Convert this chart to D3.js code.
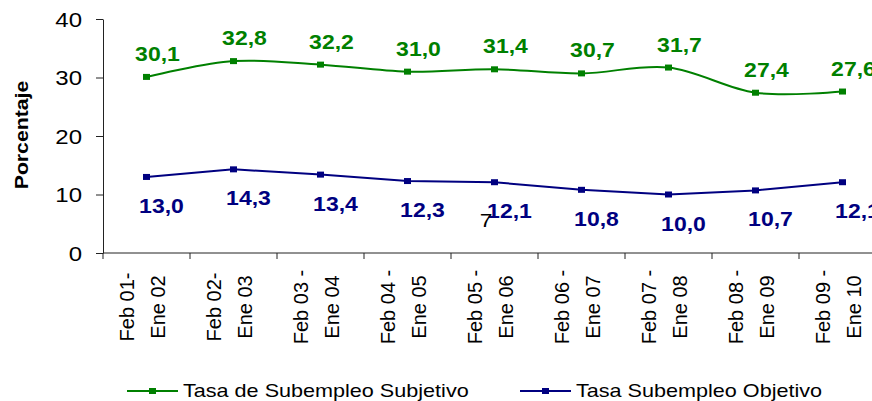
<!DOCTYPE html>
<html>
<head>
<meta charset="utf-8">
<script src="https://cdn.jsdelivr.net/npm/d3@7"></script>
<style>
  body { margin: 0; background: #fff; }
  svg { display: block; font-family: "Liberation Sans", Arial, sans-serif; }
</style>
</head>
<body>
<div id="graph"></div>
<script>
document.addEventListener("DOMContentLoaded", function() {

  // periodos (two lines each)
  const periods = ["Feb 01-|Ene 02", "Feb 02-|Ene 03", "Feb 03 -|Ene 04", "Feb 04 -|Ene 05",
    "Feb 05 -|Ene 06", "Feb 06 -|Ene 07", "Feb 07 -|Ene 08", "Feb 08 -|Ene 09", "Feb 09 -|Ene 10"];
  const subjetivo = [30.1, 32.8, 32.2, 31.0, 31.4, 30.7, 31.7, 27.4, 27.6];
  const objetivo = [13.0, 14.3, 13.4, 12.3, 12.1, 10.8, 10.0, 10.7, 12.1];
  const yTicks = [0, 10, 20, 30, 40];
  const seriesNames = ["Tasa de Subempleo Subjetivo", "Tasa Subempleo Objetivo"];

  const width = 872, height = 401;
  const green = "#008000", navy = "#000080";
  const sx = 1.2; // the original text is stretched horizontally

  const svg = d3.select("div#graph").append("svg")
    .attr("width", width)
    .attr("height", height);

  const x = d3.scaleBand().domain(periods).range([103, 886]);
  const y = d3.scaleLinear().domain([0, 40]).range([253, 19]);
  const cx = d => x(d) + x.bandwidth() / 2;

  const fmt = v => v.toFixed(1).replace(".", ",");

  // helper for stretched text
  function sText(g, px, py, str, k) {
    return g.append("text")
      .attr("transform", `translate(${px},${py}) scale(${k || sx},1)`)
      .text(str);
  }

  // y axis
  const yAxis = svg.append("g")
    .attr("transform", "translate(103,0)")
    .call(d3.axisLeft(y).tickValues(yTicks).tickSize(7).tickSizeOuter(0));
  yAxis.select(".domain").attr("stroke", "#222");
  yAxis.selectAll(".tick line").attr("stroke", "#222");
  yAxis.selectAll(".tick text")
    .attr("x", -17.5)
    .attr("dy", "0.36em")
    .attr("transform", `scale(${sx},1)`)
    .attr("font-size", 20)
    .attr("font-family", "Liberation Sans, Arial, sans-serif")
    .attr("fill", "#000");

  // x axis line and boundary ticks
  const xg = svg.append("g");
  xg.append("line")
    .attr("x1", x.range()[0]).attr("x2", x.range()[1])
    .attr("y1", y(0)).attr("y2", y(0))
    .attr("stroke", "#222");
  const edges = periods.map(p => x(p)).concat([x.range()[1]]);
  xg.selectAll(".xt").data(edges).enter().append("line")
    .attr("x1", d => d).attr("x2", d => d)
    .attr("y1", y(0)).attr("y2", y(0) + 6)
    .attr("stroke", "#222");

  // rotated category labels
  periods.forEach(p => {
    const parts = p.split("|");
    const offs = [-13, 18];
    parts.forEach((t, i) => {
      xg.append("text")
        .attr("transform", `translate(${cx(p) + offs[i]},307) scale(1.05,1) rotate(-90)`)
        .attr("text-anchor", "middle")
        .attr("font-size", 20)
        .attr("fill", "#000")
        .text(t);
    });
  });

  // y title
  svg.append("text")
    .attr("transform", "translate(28,135) scale(1.05,1.18) rotate(-90)")
    .attr("text-anchor", "middle")
    .attr("font-size", 18)
    .attr("font-weight", "bold")
    .text("Porcentaje");

  // lines
  const lineSmooth = d3.line()
    .x((d, i) => cx(periods[i]))
    .y(d => y(d))
    .curve(d3.curveCatmullRom.alpha(0));
  const lineStraight = d3.line()
    .x((d, i) => cx(periods[i]))
    .y(d => y(d));

  svg.append("path").datum(subjetivo)
    .attr("d", lineSmooth)
    .attr("fill", "none").attr("stroke", green).attr("stroke-width", 2);
  svg.append("path").datum(objetivo)
    .attr("d", lineStraight)
    .attr("fill", "none").attr("stroke", navy).attr("stroke-width", 2);

  // markers
  function markers(data, color) {
    svg.append("g").selectAll("rect").data(data).enter().append("rect")
      .attr("x", (d, i) => cx(periods[i]) - 3.5)
      .attr("y", d => y(d) - 3)
      .attr("width", 7).attr("height", 6)
      .attr("fill", color);
  }
  markers(subjetivo, green);
  markers(objetivo, navy);

  // data labels
  const gl = svg.append("g")
    .attr("font-size", 20).attr("font-weight", "bold").attr("text-anchor", "middle");
  subjetivo.forEach((v, i) => {
    sText(gl, cx(periods[i]) + 11, y(v) - 16, fmt(v), 1.15).attr("fill", green);
  });
  objetivo.forEach((v, i) => {
    sText(gl, cx(periods[i]) + 15, y(v) + 36, fmt(v), 1.15).attr("fill", navy);
  });

  // stray character from the original
  sText(svg, 486, 227, "7").attr("font-size", 19).attr("text-anchor", "middle");

  // legend
  const leg = svg.append("g").attr("font-size", 18);
  const legItems = [
    { name: seriesNames[0], color: green, x0: 127 },
    { name: seriesNames[1], color: navy, x0: 520 }
  ];
  legItems.forEach(it => {
    leg.append("line")
      .attr("x1", it.x0).attr("x2", it.x0 + 51)
      .attr("y1", 391).attr("y2", 391)
      .attr("stroke", it.color).attr("stroke-width", 2);
    leg.append("rect")
      .attr("x", it.x0 + 22).attr("y", 388)
      .attr("width", 7).attr("height", 6)
      .attr("fill", it.color);
    sText(leg, it.x0 + 56, 397, it.name).attr("fill", "#000");
  });

});
</script>
</body>
</html>
